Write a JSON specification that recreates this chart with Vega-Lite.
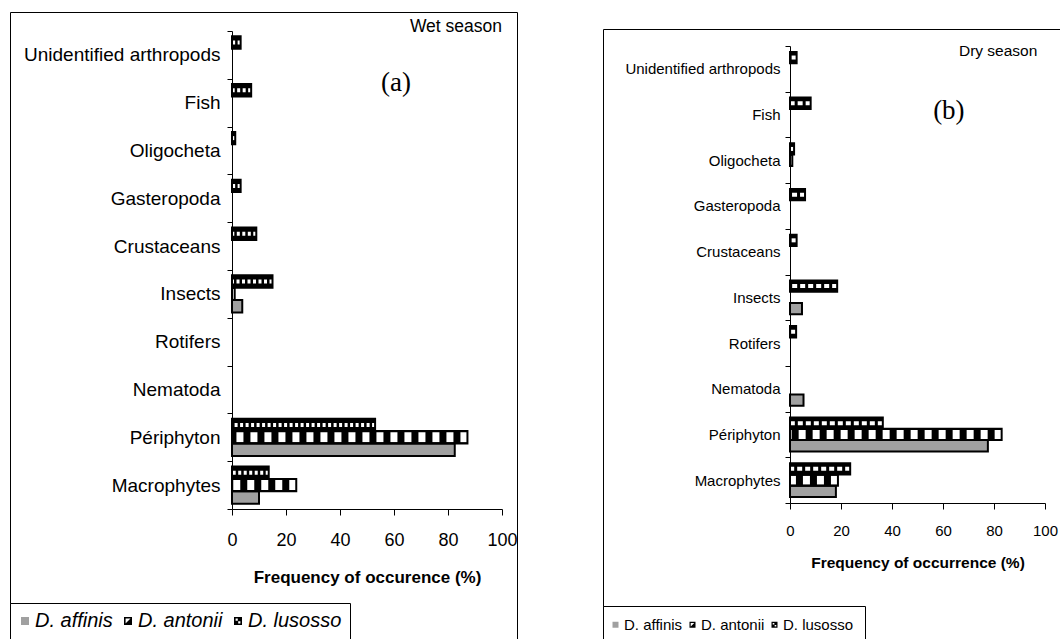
{
  "$schema": "https://vega.github.io/schema/vega-lite/v6.json",
  "padding": {"left": 9, "top": 2, "right": 0, "bottom": 0},
  "spacing": 84,
  "background": "white",
  "resolve": {"scale": {"fill": "independent", "shape": "independent", "yOffset": "independent"}, "legend": {"fill": "independent", "shape": "independent"}},
  "config": {
    "font": "Liberation Sans",
    "view": {"stroke": "black", "strokeWidth": 1},
    "axis": {"domainColor": "black", "tickColor": "black", "labelColor": "black", "titleColor": "black", "grid": false, "domainWidth": 1, "tickWidth": 1}
  },
  "datasets": {
    "wet": [
      {"category": "Macrophytes", "species": "D. affinis", "value": 10},
      {"category": "Macrophytes", "species": "D. antonii", "value": 23.8},
      {"category": "Macrophytes", "species": "D. lusosso", "value": 13.6},
      {"category": "Périphyton", "species": "D. affinis", "value": 82.5},
      {"category": "Périphyton", "species": "D. antonii", "value": 87.2},
      {"category": "Périphyton", "species": "D. lusosso", "value": 53},
      {"category": "Insects", "species": "D. affinis", "value": 3.8},
      {"category": "Insects", "species": "D. antonii", "value": 1},
      {"category": "Insects", "species": "D. lusosso", "value": 15},
      {"category": "Crustaceans", "species": "D. lusosso", "value": 9},
      {"category": "Gasteropoda", "species": "D. lusosso", "value": 3.2},
      {"category": "Oligocheta", "species": "D. lusosso", "value": 1.2},
      {"category": "Fish", "species": "D. lusosso", "value": 7.1},
      {"category": "Unidentified arthropods", "species": "D. lusosso", "value": 3.2}
    ],
    "dry": [
      {"category": "Macrophytes", "species": "D. affinis", "value": 18},
      {"category": "Macrophytes", "species": "D. antonii", "value": 18.8},
      {"category": "Macrophytes", "species": "D. lusosso", "value": 23.6},
      {"category": "Périphyton", "species": "D. affinis", "value": 77.6},
      {"category": "Périphyton", "species": "D. antonii", "value": 83},
      {"category": "Périphyton", "species": "D. lusosso", "value": 36.4},
      {"category": "Nematoda", "species": "D. affinis", "value": 5.3},
      {"category": "Rotifers", "species": "D. lusosso", "value": 2.4},
      {"category": "Insects", "species": "D. affinis", "value": 4.7},
      {"category": "Insects", "species": "D. lusosso", "value": 18.5},
      {"category": "Crustaceans", "species": "D. lusosso", "value": 2.6},
      {"category": "Gasteropoda", "species": "D. lusosso", "value": 5.9},
      {"category": "Oligocheta", "species": "D. lusosso", "value": 1.6},
      {"category": "Oligocheta", "species": "D. antonii", "value": 0.9},
      {"category": "Fish", "species": "D. lusosso", "value": 8.1},
      {"category": "Unidentified arthropods", "species": "D. lusosso", "value": 2.6}
    ]
  },
  "hconcat": [
    {
      "width": 507,
      "height": 629,
      "data": {"name": "wet"},
      "layer": [
        {
          "mark": {"type": "bar", "strokeWidth": 0},
          "encoding": {
            "y": {"field": "category", "type": "nominal",
              "scale": {"domain": ["Unidentified arthropods", "Fish", "Oligocheta", "Gasteropoda", "Crustaceans", "Insects", "Rotifers", "Nematoda", "Périphyton", "Macrophytes"], "range": [19, 497], "paddingInner": 0, "paddingOuter": 0},
              "axis": {"orient": "left", "offset": -222, "title": null, "tickBand": "extent", "tickSize": 5, "labelFontSize": 19, "labelPadding": 7, "labelLimit": 400}},
            "x": {"field": "value", "type": "quantitative",
              "scale": {"domain": [0, 100], "range": [222, 492], "nice": false},
              "axis": {"orient": "bottom", "offset": -132, "values": [0, 20, 40, 60, 80, 100], "title": "Frequency of occurence (%)", "tickSize": 6, "labelFontSize": 18, "labelPadding": 16, "labelFlush": false, "titleFontSize": 17, "titleFontWeight": "bold", "titlePadding": 20}},
            "yOffset": {"field": "species", "type": "nominal", "scale": {"domain": ["D. lusosso", "D. antonii", "D. affinis"], "paddingInner": 0, "paddingOuter": 0.43}},
            "fill": {"field": "species", "type": "nominal",
              "scale": {"domain": ["D. affinis", "D. antonii", "D. lusosso"], "range": ["#a0a0a0", "#000000", "#000000"]},
              "legend": {"title": null, "orient": "none", "legendX": 0, "legendY": 591, "direction": "horizontal", "strokeColor": "black", "fillColor": "white", "padding": 8, "labelFontSize": 20, "labelFontStyle": "italic", "labelColor": "black", "symbolSize": 64, "symbolStrokeColor": "black", "symbolStrokeWidth": 1, "symbolOpacity": 1, "symbolOffset": -3, "labelOffset": 0, "columnPadding": 8}}
          }
        },
        {
          "transform": [{"filter": "datum.species == 'D. antonii'"}],
          "mark": {"type": "rule", "stroke": "white", "strokeWidth": 10, "strokeDash": [7, 7], "strokeCap": "butt"},
          "encoding": {
            "y": {"field": "category", "type": "nominal"},
            "yOffset": {"field": "species", "type": "nominal"},
            "x": {"field": "value", "type": "quantitative"},
            "x2": {"datum": 0}
          }
        },
        {
          "transform": [{"filter": "datum.species == 'D. lusosso'"}],
          "mark": {"type": "rule", "stroke": "white", "strokeWidth": 4, "strokeDash": [3, 2.5], "strokeCap": "butt"},
          "encoding": {
            "y": {"field": "category", "type": "nominal"},
            "yOffset": {"field": "species", "type": "nominal"},
            "x": {"field": "value", "type": "quantitative"},
            "x2": {"datum": 0}
          }
        },
        {
          "mark": {"type": "bar", "fillOpacity": 0, "stroke": "black", "strokeWidth": 2},
          "encoding": {
            "y": {"field": "category", "type": "nominal"},
            "yOffset": {"field": "species", "type": "nominal"},
            "x": {"field": "value", "type": "quantitative"}
          }
        },
        {
          "mark": {"type": "point", "filled": false, "opacity": 0, "stroke": "black", "strokeWidth": 1},
          "encoding": {
            "y": {"field": "category", "type": "nominal"},
            "yOffset": {"field": "species", "type": "nominal"},
            "x": {"field": "value", "type": "quantitative"},
            "fill": {"field": "species", "type": "nominal",
              "legend": {"title": null, "orient": "none", "legendX": 0, "legendY": 591, "direction": "horizontal", "strokeColor": "black", "fillColor": "white", "padding": 8, "labelFontSize": 20, "labelFontStyle": "italic", "labelColor": "black", "symbolSize": 64, "symbolStrokeColor": "black", "symbolStrokeWidth": 1, "symbolOpacity": 1, "symbolOffset": -3, "labelOffset": 0, "columnPadding": 8}},
            "shape": {"field": "species", "type": "nominal",
              "scale": {"domain": ["D. affinis", "D. antonii", "D. lusosso"], "range": ["M-1,-1H1V1H-1Z", "M-1,-1H1V1H-1Z M-0.6,-0.6V0.6H0.6V-0.6Z M1,-1V1H-1Z", "M-1,-1H1V1H-1Z M-0.6,-0.6V-0.05H-0.05V-0.6Z M0.05,0.05V0.6H0.6V0.05Z"]},
              "legend": {"title": null, "orient": "none", "legendX": 0, "legendY": 591, "direction": "horizontal", "strokeColor": "black", "fillColor": "white", "padding": 8, "labelFontSize": 20, "labelFontStyle": "italic", "labelColor": "black", "symbolSize": 64, "symbolStrokeColor": "black", "symbolStrokeWidth": 1, "symbolOpacity": 1, "symbolOffset": -3, "labelOffset": 0, "columnPadding": 8}}
          }
        },
        {
          "data": {"values": [{"label": "Wet season"}]},
          "mark": {"type": "text", "align": "right", "baseline": "middle", "fontSize": 17.5, "dy": -28, "color": "black"},
          "encoding": {"text": {"field": "label", "type": "nominal"}, "x": {"datum": 100, "type": "quantitative"}, "y": {"datum": "Unidentified arthropods", "type": "nominal"}}
        },
        {
          "data": {"values": [{"label": "(a)"}]},
          "mark": {"type": "text", "align": "center", "baseline": "middle", "font": "Liberation Serif", "fontSize": 27, "dy": 28, "color": "black"},
          "encoding": {"text": {"field": "label", "type": "nominal"}, "x": {"datum": 60.7, "type": "quantitative"}, "y": {"datum": "Unidentified arthropods", "type": "nominal"}}
        }
      ]
    },
    {
      "spacing": 5,
      "vconcat": [
        {
          "width": 459,
          "height": 1,
          "view": {"stroke": null},
          "data": {"values": [{"label": ""}]},
          "mark": {"type": "point", "opacity": 0}
        },
        {
          "width": 459,
          "height": 612,
          "data": {"name": "dry"},
          "layer": [
            {
              "mark": {"type": "bar", "strokeWidth": 0},
              "encoding": {
                "y": {"field": "category", "type": "nominal",
                  "scale": {"domain": ["Unidentified arthropods", "Fish", "Oligocheta", "Gasteropoda", "Crustaceans", "Insects", "Rotifers", "Nematoda", "Périphyton", "Macrophytes"], "range": [17, 474], "paddingInner": 0, "paddingOuter": 0},
                  "axis": {"orient": "left", "offset": -187, "title": null, "tickBand": "extent", "tickSize": 5, "labelFontSize": 15, "labelPadding": 5, "labelLimit": 400}},
                "x": {"field": "value", "type": "quantitative",
                  "scale": {"domain": [0, 100], "range": [187, 442], "nice": false},
                  "axis": {"orient": "bottom", "offset": -138, "values": [0, 20, 40, 60, 80, 100], "title": "Frequency of occurrence (%)", "tickSize": 6, "labelFontSize": 15, "labelPadding": 14, "labelFlush": false, "titleFontSize": 15.5, "titleFontWeight": "bold", "titlePadding": 17}},
                "yOffset": {"field": "species", "type": "nominal", "scale": {"domain": ["D. lusosso", "D. antonii", "D. affinis"], "paddingInner": 0, "paddingOuter": 0.52}},
                "fill": {"field": "species", "type": "nominal",
                  "scale": {"domain": ["D. affinis", "D. antonii", "D. lusosso"], "range": ["#a0a0a0", "#000000", "#000000"]},
                  "legend": {"title": null, "orient": "none", "legendX": 0, "legendY": 594, "direction": "horizontal", "strokeColor": "black", "fillColor": "white", "padding": 11, "labelFontSize": 15, "labelColor": "black", "symbolSize": 36, "symbolStrokeColor": "black", "symbolStrokeWidth": 1, "symbolOpacity": 1, "symbolOffset": -6, "labelOffset": 1, "columnPadding": 4}}
              }
            },
            {
              "transform": [{"filter": "datum.species == 'D. antonii'"}],
              "mark": {"type": "rule", "stroke": "white", "strokeWidth": 9, "strokeDash": [7, 7], "strokeCap": "butt"},
              "encoding": {
                "y": {"field": "category", "type": "nominal"},
                "yOffset": {"field": "species", "type": "nominal"},
                "x": {"field": "value", "type": "quantitative"},
                "x2": {"datum": 0}
              }
            },
            {
              "transform": [{"filter": "datum.species == 'D. lusosso'"}],
              "mark": {"type": "rule", "stroke": "white", "strokeWidth": 4, "strokeDash": [5, 3], "strokeCap": "butt"},
              "encoding": {
                "y": {"field": "category", "type": "nominal"},
                "yOffset": {"field": "species", "type": "nominal"},
                "x": {"field": "value", "type": "quantitative"},
                "x2": {"datum": 0}
              }
            },
            {
              "mark": {"type": "bar", "fillOpacity": 0, "stroke": "black", "strokeWidth": 2},
              "encoding": {
                "y": {"field": "category", "type": "nominal"},
                "yOffset": {"field": "species", "type": "nominal"},
                "x": {"field": "value", "type": "quantitative"}
              }
            },
            {
              "mark": {"type": "point", "filled": false, "opacity": 0, "stroke": "black", "strokeWidth": 1},
              "encoding": {
                "y": {"field": "category", "type": "nominal"},
                "yOffset": {"field": "species", "type": "nominal"},
                "x": {"field": "value", "type": "quantitative"},
                "fill": {"field": "species", "type": "nominal",
                  "legend": {"title": null, "orient": "none", "legendX": 0, "legendY": 594, "direction": "horizontal", "strokeColor": "black", "fillColor": "white", "padding": 11, "labelFontSize": 15, "labelColor": "black", "symbolSize": 36, "symbolStrokeColor": "black", "symbolStrokeWidth": 1, "symbolOpacity": 1, "symbolOffset": -6, "labelOffset": 1, "columnPadding": 4}},
                "shape": {"field": "species", "type": "nominal",
                  "scale": {"domain": ["D. affinis", "D. antonii", "D. lusosso"], "range": ["M-1,-1H1V1H-1Z", "M-1,-1H1V1H-1Z M-0.6,-0.6V0.6H0.6V-0.6Z M1,-1V1H-1Z", "M-1,-1H1V1H-1Z M-0.6,-0.6V-0.05H-0.05V-0.6Z M0.05,0.05V0.6H0.6V0.05Z"]},
                  "legend": {"title": null, "orient": "none", "legendX": 0, "legendY": 594, "direction": "horizontal", "strokeColor": "black", "fillColor": "white", "padding": 11, "labelFontSize": 15, "labelColor": "black", "symbolSize": 36, "symbolStrokeColor": "black", "symbolStrokeWidth": 1, "symbolOpacity": 1, "symbolOffset": -6, "labelOffset": 1, "columnPadding": 4}}
              }
            },
            {
              "data": {"values": [{"label": "Dry season"}]},
              "mark": {"type": "text", "align": "right", "baseline": "middle", "fontSize": 15.5, "dy": -18, "color": "black"},
              "encoding": {"text": {"field": "label", "type": "nominal"}, "x": {"datum": 97, "type": "quantitative"}, "y": {"datum": "Unidentified arthropods", "type": "nominal"}}
            },
            {
              "data": {"values": [{"label": "(b)"}]},
              "mark": {"type": "text", "align": "center", "baseline": "middle", "font": "Liberation Serif", "fontSize": 27, "dy": 42, "color": "black"},
              "encoding": {"text": {"field": "label", "type": "nominal"}, "x": {"datum": 62.3, "type": "quantitative"}, "y": {"datum": "Unidentified arthropods", "type": "nominal"}}
            }
          ]
        }
      ]
    }
  ]
}
